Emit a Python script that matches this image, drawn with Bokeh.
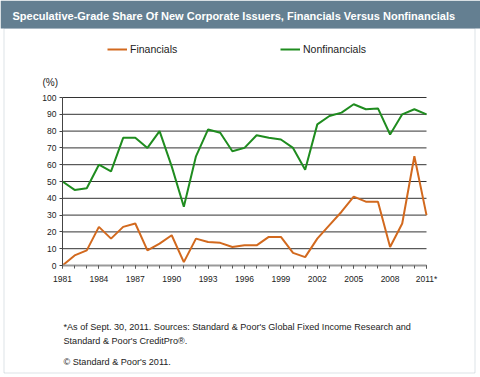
from bokeh.plotting import figure
from bokeh.models import (Label, BoxAnnotation, Legend, LegendItem, FixedTicker,
                          ColumnDataSource, Range1d, LinearAxis)
from bokeh.embed import file_html
from bokeh.resources import INLINE

years = list(range(1981, 2012))
financials = [0, 6, 9, 23, 16, 23, 25, 9, 13, 18, 2, 16, 14, 13.5, 11, 12, 12,
              17, 17, 7.5, 5, 16, 24, 32, 41, 38, 38, 11, 25, 65, 30]
nonfinancials = [50, 45, 46, 60, 56, 76, 76, 70, 80, 59, 35, 65, 81, 79, 68, 70,
                 77.5, 76, 75, 70, 57, 84, 89, 91, 96, 93, 93.5, 78, 90, 93, 90]
x_ticks = list(range(1981, 2012, 3))
y_ticks = list(range(0, 101, 10))
title_text = "Speculative-Grade Share Of New Corporate Issuers, Financials Versus Nonfinancials"
note_lines = ["*As of Sept. 30, 2011. Sources: Standard & Poor's Global Fixed Income Research and",
              "Standard & Poor's CreditPro\u00ae."]
copyright_text = "\u00a9 Standard & Poor's 2011."

FONT = "Liberation Sans"
ORANGE = "#d2691e"
GREEN = "#1f8c1f"
TXT = "#222222"

W, H = 480, 377
# plot area in page pixels
FL, FR, FT, FB = 62, 426, 97, 265
X0, X1 = years[0], years[-1]
Y0, Y1 = 0, 100
xpx = (FR - FL) / (X1 - X0)
ypx = (FB - FT) / (Y1 - Y0)

p = figure(width=W, height=H, output_backend="svg", toolbar_location=None,
           x_range=Range1d(X0 - FL / xpx, X1 + (W - FR) / xpx),
           y_range=Range1d(Y0 - (H - FB) / ypx, Y1 + FT / ypx),
           min_border=0, x_axis_type=None, y_axis_type=None)
p.title.visible = False
p.outline_line_color = None
p.background_fill_color = "white"
p.border_fill_color = "white"
p.xgrid.visible = False
p.ygrid.visible = False


def sx(cx):
    return cx


def sy(cy):
    return H - cy


# title bar and border
p.add_layout(BoxAnnotation(left=sx(0), right=sx(W), top=sy(0), bottom=sy(28),
                           left_units="screen", right_units="screen",
                           top_units="screen", bottom_units="screen",
                           fill_color="#647f91", fill_alpha=1, line_color=None,
                           level="underlay"))
p.add_layout(BoxAnnotation(left=sx(3.5), right=sx(474.5), top=sy(28), bottom=sy(372.5),
                           left_units="screen", right_units="screen",
                           top_units="screen", bottom_units="screen",
                           fill_alpha=0, line_color="#8b9fb0", line_width=1,
                           level="underlay"))

# horizontal gridlines limited to the plot area
p.segment(x0=[X0] * len(y_ticks), x1=[X1] * len(y_ticks), y0=y_ticks, y1=y_ticks,
          line_color="#333333", line_width=1)

src = ColumnDataSource(dict(year=years, fin=financials, nonfin=nonfinancials))
r_fin = p.line("year", "fin", source=src, line_color=ORANGE, line_width=2)
r_non = p.line("year", "nonfin", source=src, line_color=GREEN, line_width=2)

# axes at fixed locations
xa = LinearAxis(fixed_location=Y0, bounds=(X0, X1),
                ticker=FixedTicker(ticks=x_ticks, minor_ticks=years))
xa.major_label_overrides = {2011: "2011*"}
xa.axis_line_color = "#999999"
xa.axis_line_width = 2
xa.major_tick_in = 0
xa.major_tick_out = 3
xa.minor_tick_in = 0
xa.minor_tick_out = 3
xa.major_tick_line_color = "#555555"
xa.minor_tick_line_color = "#555555"
xa.major_label_text_font = FONT
xa.major_label_text_font_size = "8.5px"
xa.major_label_text_color = TXT
xa.major_label_standoff = 5
p.add_layout(xa, "below")

ya = LinearAxis(fixed_location=X0, bounds=(Y0, Y1), ticker=FixedTicker(ticks=y_ticks))
ya.axis_line_color = "#444444"
ya.major_tick_in = 0
ya.major_tick_out = 3
ya.minor_tick_line_color = None
ya.major_tick_line_color = "#444444"
ya.major_label_text_font = FONT
ya.major_label_text_font_size = "8.5px"
ya.major_label_text_color = TXT
ya.major_label_standoff = 3
p.add_layout(ya, "left")

p.add_layout(Label(x=sx(12), y=sy(15), x_units="screen", y_units="screen",
                   text=title_text, text_color="white", text_font=FONT,
                   text_font_style="bold", text_font_size="11px",
                   text_baseline="middle"))

# legends
for r, name, lx in [(r_fin, "Financials", 107), (r_non, "Nonfinancials", 280)]:
    lg = Legend(items=[LegendItem(label=name, renderers=[r])],
                location=(sx(lx), sy(55)), orientation="horizontal",
                glyph_width=20, glyph_height=10, label_height=10,
                label_standoff=3, padding=0, margin=0,
                border_line_color=None, background_fill_alpha=0,
                label_text_font=FONT, label_text_font_size="10.5px",
                label_text_color=TXT)
    p.add_layout(lg)

p.add_layout(Label(x=sx(42), y=sy(82), x_units="screen", y_units="screen",
                   text="(%)", text_font=FONT, text_font_size="10px",
                   text_color=TXT, text_baseline="middle"))

for i, t in enumerate(note_lines):
    p.add_layout(Label(x=sx(63), y=sy(326 + 14 * i), x_units="screen", y_units="screen",
                       text=t, text_font=FONT, text_font_size="9.1px",
                       text_color=TXT, text_baseline="middle"))
p.add_layout(Label(x=sx(63), y=sy(361), x_units="screen", y_units="screen",
                   text=copyright_text, text_font=FONT, text_font_size="9.1px",
                   text_color=TXT, text_baseline="middle"))

open("out.html", "w").write(file_html(p, INLINE))
